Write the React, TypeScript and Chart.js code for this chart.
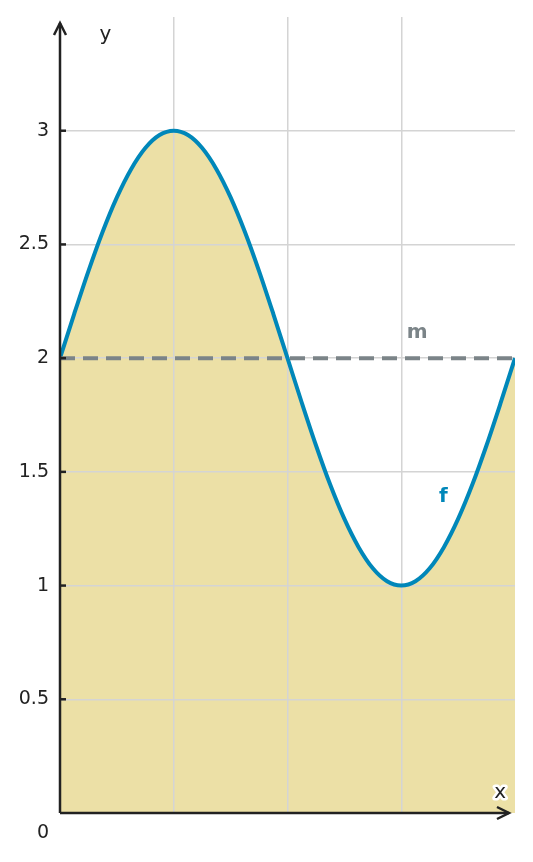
import { useEffect, useRef } from 'react';
import { Chart, registerables } from 'chart.js';

Chart.register(...registerables);

const xValues = [
  0, 0.125, 0.25, 0.375, 0.5, 0.625, 0.75, 0.875, 1, 1.125, 1.25, 1.375, 1.5, 1.625, 1.75, 1.875, 2,
  2.125, 2.25, 2.375, 2.5, 2.625, 2.75, 2.875, 3, 3.125, 3.25, 3.375, 3.5, 3.625, 3.75, 3.875, 4,
];
const fValues = [
  2, 2.195, 2.383, 2.556, 2.707, 2.831, 2.924, 2.981, 3, 2.981, 2.924, 2.831, 2.707, 2.556, 2.383, 2.195, 2,
  1.805, 1.617, 1.444, 1.293, 1.169, 1.076, 1.019, 1, 1.019, 1.076, 1.169, 1.293, 1.444, 1.617, 1.805, 2,
];
const mX = [0, 4];
const mValues = [2, 2];

const yTicks = [0.5, 1, 1.5, 2, 2.5, 3];
const xGridLines = [1, 2, 3];

const FILL = '#ECE0A6';
const BLUE = '#0087B9';
const GRAY = '#7B8488';
const INK = '#222222';
const GRID = '#D4D4D4';

const axesPlugin = {
  id: 'axesDecor',
  afterDraw(chart: Chart) {
    const { ctx, chartArea, scales } = chart;
    const xs = scales.x;
    const ys = scales.y;
    const x0 = xs.getPixelForValue(0);
    const y0 = ys.getPixelForValue(0);
    ctx.save();
    ctx.strokeStyle = INK;
    ctx.lineWidth = 2.5;
    ctx.lineCap = 'butt';
    // y axis
    ctx.beginPath();
    ctx.moveTo(x0, y0);
    ctx.lineTo(x0, chartArea.top + 6);
    ctx.stroke();
    ctx.beginPath();
    ctx.moveTo(x0 - 6, chartArea.top + 18);
    ctx.lineTo(x0, chartArea.top + 6);
    ctx.lineTo(x0 + 6, chartArea.top + 18);
    ctx.stroke();
    // x axis
    ctx.beginPath();
    ctx.moveTo(x0, y0);
    ctx.lineTo(chartArea.right - 6, y0);
    ctx.stroke();
    ctx.beginPath();
    ctx.moveTo(chartArea.right - 18, y0 - 6);
    ctx.lineTo(chartArea.right - 6, y0);
    ctx.lineTo(chartArea.right - 18, y0 + 6);
    ctx.stroke();
    // y ticks + labels
    ctx.font = '19px "DejaVu Sans"';
    ctx.fillStyle = INK;
    ctx.textAlign = 'right';
    ctx.textBaseline = 'middle';
    yTicks.forEach(t => {
      const py = ys.getPixelForValue(t);
      ctx.beginPath();
      ctx.moveTo(x0, py);
      ctx.lineTo(x0 + 6, py);
      ctx.stroke();
      ctx.fillText(String(t), x0 - 11, py);
    });
    ctx.fillText('0', x0 - 11, y0 + 20);
    // axis names
    ctx.font = '20px "DejaVu Sans"';
    ctx.textAlign = 'center';
    ctx.fillText('y', xs.getPixelForValue(0.4), ys.getPixelForValue(3.42));
    const xlx = xs.getPixelForValue(3.87);
    const xly = ys.getPixelForValue(0.09);
    ctx.strokeStyle = '#ffffff';
    ctx.lineWidth = 5;
    ctx.lineJoin = 'round';
    ctx.strokeText('x', xlx, xly);
    ctx.fillText('x', xlx, xly);
    // curve names
    ctx.font = 'bold 20px "DejaVu Sans"';
    ctx.fillStyle = GRAY;
    ctx.fillText('m', xs.getPixelForValue(3.14), ys.getPixelForValue(2.11));
    ctx.fillStyle = BLUE;
    ctx.fillText('f', xs.getPixelForValue(3.37), ys.getPixelForValue(1.39));
    ctx.restore();
  },
};

export default function App() {
  const canvasRef = useRef<HTMLCanvasElement>(null);

  useEffect(() => {
    if (!canvasRef.current) return;
    const chart = new Chart(canvasRef.current, {
      type: 'line',
      data: {
        datasets: [
          {
            label: 'm',
            data: mX.map((x, i) => ({ x, y: mValues[i] })),
            borderColor: GRAY,
            borderWidth: 4,
            borderDash: [15, 8],
            pointRadius: 0,
            fill: false,
            order: 0,
          },
          {
            label: 'f',
            data: xValues.map((x, i) => ({ x, y: fValues[i] })),
            borderColor: BLUE,
            backgroundColor: FILL,
            borderWidth: 4,
            pointRadius: 0,
            cubicInterpolationMode: 'monotone',
            fill: 'origin',
            order: 1,
          },
        ],
      },
      options: {
        responsive: false,
        animation: false,
        layout: { padding: { left: 60, right: 18, top: 17, bottom: 49 } },
        plugins: {
          legend: { display: false },
          tooltip: { enabled: false },
          filler: { drawTime: 'beforeDraw' },
        },
        scales: {
          x: {
            type: 'linear',
            min: 0,
            max: 4,
            ticks: { display: false, stepSize: 1 },
            border: { display: false },
            grid: {
              drawTicks: false,
              lineWidth: 1.5,
              color: c => (xGridLines.includes(c.tick.value) ? GRID : 'rgba(0,0,0,0)'),
            },
          },
          y: {
            type: 'linear',
            min: 0,
            max: 3.5,
            ticks: { display: false, stepSize: 0.5 },
            border: { display: false },
            grid: {
              drawTicks: false,
              lineWidth: 1.5,
              color: c => (yTicks.includes(c.tick.value) ? GRID : 'rgba(0,0,0,0)'),
            },
          },
        },
      },
      plugins: [axesPlugin],
    });
    return () => chart.destroy();
  }, []);

  return (
    <div style={{ position: 'absolute', left: 0, top: 0, width: 533, height: 862, background: '#fff' }}>
      <canvas ref={canvasRef} width={533} height={862} style={{ display: 'block' }} />
    </div>
  );
}
